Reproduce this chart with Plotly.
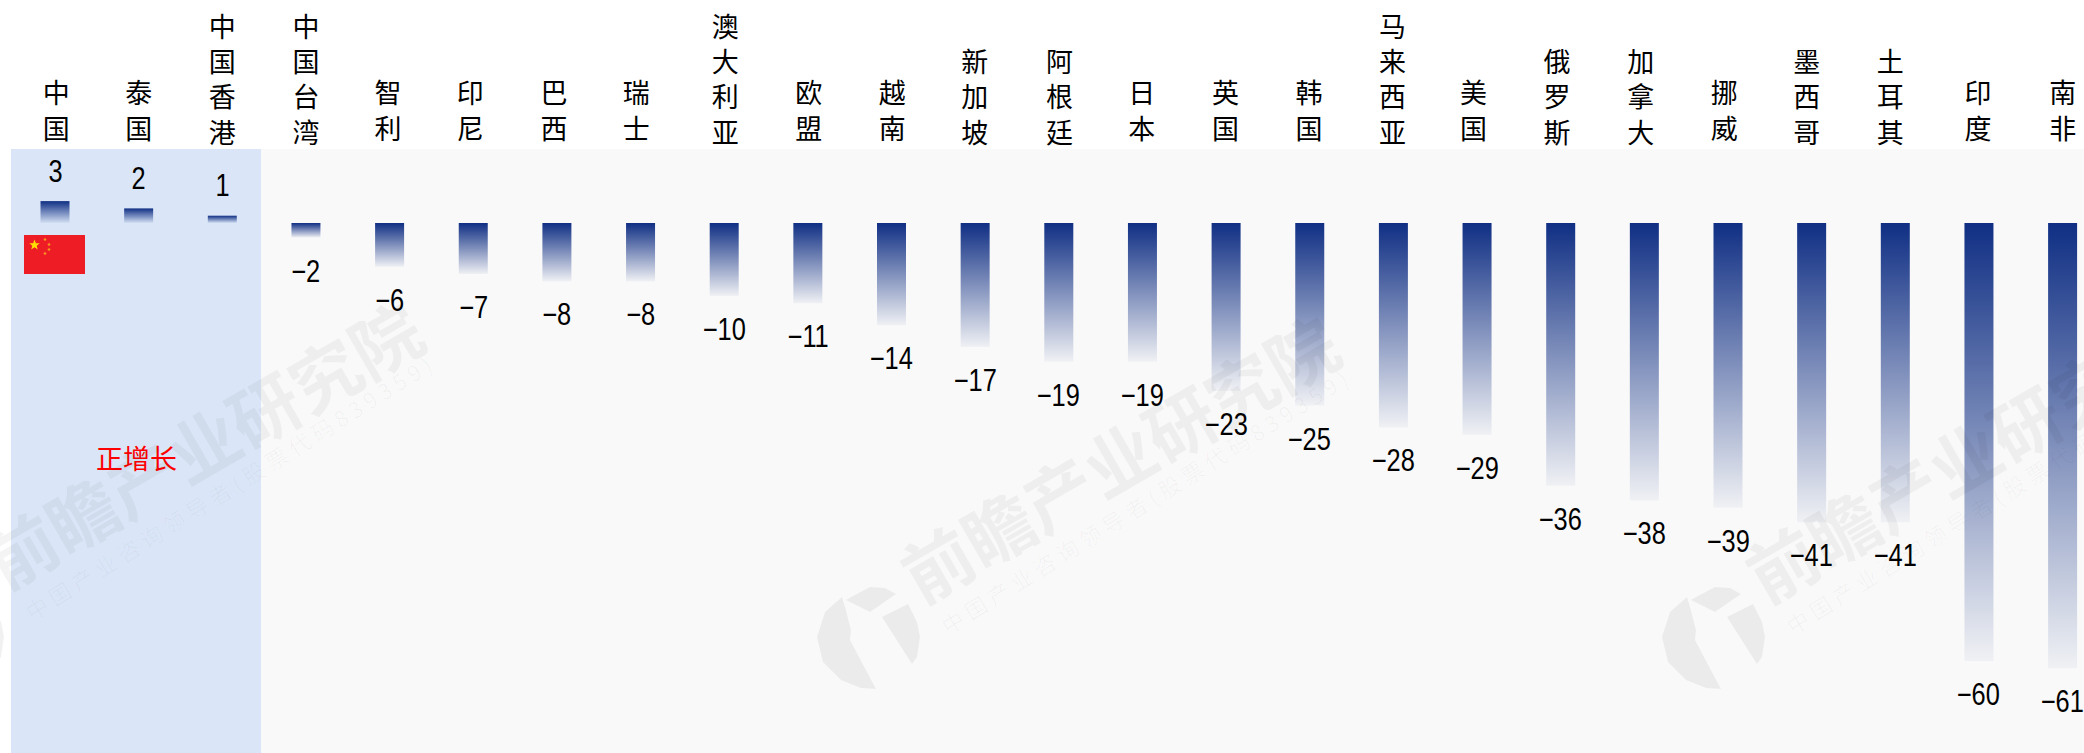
import base64
import json
import math
import plotly.graph_objects as go

categories = ["中国", "泰国", "中国香港", "中国台湾", "智利", "印尼", "巴西", "瑞士", "澳大利亚", "欧盟",
              "越南", "新加坡", "阿根廷", "日本", "英国", "韩国", "马来西亚", "美国", "俄罗斯", "加拿大",
              "挪威", "墨西哥", "土耳其", "印度", "南非"]
values = [3, 2, 1, -2, -6, -7, -8, -8, -10, -11, -14, -17, -19, -19, -23, -25, -28, -29, -36, -38, -39,
          -41, -41, -60, -61]
positive_note = "正增长"
watermark_main = "前瞻产业研究院"
watermark_sub = "中国产业咨询领导者(股票代码839359)"

W, H = 2084, 753
L, T = 11, 149
STEP = 83.65
UNIT = 7.3
CJK = "Noto Sans CJK SC"
NUM = "Liberation Sans"
BG = "#F9F9F9"
label_nudge = [1.3, 0, 0, 0, -1.5, -3, -3, -4.3, 1, 1, 0.8, -0.5, 0.7, -0.7, -0.7, -0.8, -0.8, -3.5, -3.6,
               -3.6, -3.7, -5, -5, -1, 0.1]
watermark_offsets = [(-916, -14), (0, 0), (845, 0)]


def px(x):
    return (x - L) / (W - L)


def py(y):
    return 1 - (y - T) / (H - T)


xmin = (L - 55) / STEP
xmax = xmin + (W - L) / STEP
ymax = (223 - T) / UNIT
ymin = (223 - H) / UNIT

fig = go.Figure(go.Bar(
    x=list(range(len(values))), y=values, width=29 / STEP,
    marker=dict(color="#102F84", line=dict(width=0)),
    hoverinfo="skip",
))

annotations = []
for i, v in enumerate(values):
    annotations.append(dict(
        x=i, y=v, xref="x", yref="y", showarrow=False, xanchor="center", yanchor="middle",
        yshift=30 if v > 0 else -33.5,
        text=str(v).replace("-", "−"), font=dict(family=NUM, size=31, color="#000000"),
    ))
annotations.append(dict(x=px(136), y=py(457), xref="paper", yref="paper", showarrow=False,
                        xanchor="center", yanchor="middle",
                        text=positive_note, font=dict(family=CJK, size=27, color="#FF0000")))

shapes = [dict(type="rect", xref="paper", yref="paper", x0=0, x1=px(261), y0=0, y1=1,
               fillcolor="#DAE6F7", line_width=0, layer="below")]

LOGO_LEFT = [(-27, -40), (-44, -25), (-52, 0), (-46, 25), (-28, 43), (-8, 51), (7, 52), (-19, 3), (-18, -7), (-24, -30)]
LOGO_TOP = [(-16, -41), (1, -50), (16, -49), (27, -43), (1, -25), (-23, -37)]
LOGO_RIGHT = [(13, -20), (39, -33), (48, -15), (51, 0), (48, 20), (43, 27)]

for dx, dy in watermark_offsets:
    annotations.append(dict(x=px(1118 + dx), y=py(456 + dy), xref="paper", yref="paper", showarrow=False,
                            xanchor="center", yanchor="middle",
                            text="<b>" + watermark_main + "</b>", textangle=-30,
                            font=dict(family=CJK, size=70, color="rgba(0,0,0,0.042)")))
    annotations.append(dict(x=px(1146 + dx), y=py(500 + dy), xref="paper", yref="paper", showarrow=False,
                            xanchor="center", yanchor="middle",
                            text=watermark_sub, textangle=-32,
                            font=dict(family=CJK, size=22, color="rgba(0,0,0,0.03)")))
    for piece in (LOGO_LEFT, LOGO_TOP, LOGO_RIGHT):
        d = "M" + " L".join(f"{px(869 + dx + a):.5f},{py(637 + b):.5f}" for a, b in piece) + " Z"
        shapes.append(dict(type="path", path=d, xref="paper", yref="paper",
                           fillcolor="rgba(0,0,0,0.055)", line_width=0, layer="above"))


def star(cx, cy, r, fill):
    pts = []
    for j in range(10):
        a = -math.pi / 2 + j * math.pi / 5
        rr = r if j % 2 == 0 else r * 0.42
        pts.append(f"{cx + rr * math.cos(a):.2f},{cy + rr * math.sin(a):.2f}")
    return f'<polygon points="{" ".join(pts)}" fill="{fill}"/>'


flag_svg = ('<svg xmlns="http://www.w3.org/2000/svg" width="61" height="39" viewBox="0 0 61 39">'
            '<rect width="61" height="39" fill="#EE1C25"/>'
            + star(10.5, 10, 5.5, "#FFDE00") + star(21, 4.5, 2, "#F7A020") + star(25, 9.5, 2, "#F7A020")
            + star(25, 14.5, 2, "#F7A020") + star(21, 18.5, 2, "#F7A020") + '</svg>')
flag_uri = "data:image/svg+xml;base64," + base64.b64encode(flag_svg.encode()).decode()

fig.update_layout(
    width=W, height=H, margin=dict(l=L, r=0, t=T, b=0, pad=0),
    paper_bgcolor="#FFFFFF", plot_bgcolor=BG, showlegend=False,
    xaxis=dict(range=[xmin, xmax], side="top", tickmode="array", tickvals=list(range(len(categories))),
               ticktext=["<br>".join(c) for c in categories], ticks="", ticklen=0, showgrid=False,
               zeroline=False, showline=False, automargin=False, tickangle=0,
               tickfont=dict(family=CJK, size=27, color="#000000")),
    yaxis=dict(range=[ymin, ymax], visible=False, showgrid=False, zeroline=False),
    annotations=annotations, shapes=shapes,
    images=[dict(source=flag_uri, xref="paper", yref="paper", x=px(24), y=py(235), sizex=61 / (W - L),
                 sizey=39 / (H - T), xanchor="left", yanchor="top", sizing="stretch", layer="above")],
)

post = """
document.documentElement.style.overflow='hidden';
document.body.style.margin='0';
var gd=document.getElementById('{plot_id}');
var svg=gd.querySelector('svg.main-svg');
var ns='http://www.w3.org/2000/svg';
var defs=svg.querySelector('defs');
var g=document.createElementNS(ns,'linearGradient');
g.setAttribute('id','barFade');g.setAttribute('x1','0');g.setAttribute('y1','0');g.setAttribute('x2','0');g.setAttribute('y2','1');
[[0,1],[1,0.04]].forEach(function(s){var st=document.createElementNS(ns,'stop');
st.setAttribute('offset',s[0]);st.setAttribute('stop-color','#102F84');st.setAttribute('stop-opacity',s[1]);g.appendChild(st);});
defs.appendChild(g);
gd.querySelectorAll('.barlayer .point path').forEach(function(p){p.style.setProperty('fill','url(#barFade)');p.style.setProperty('fill-opacity','1');});
gd.querySelectorAll('.annotation-text').forEach(function(t){
  if(/^[−0-9]+$/.test(t.textContent)){
    t.setAttribute('textLength',(t.getComputedTextLength()*0.82).toFixed(1));
    t.setAttribute('lengthAdjust','spacingAndGlyphs');
  } else if(t.textContent.indexOf('股票')>=0){
    t.style.letterSpacing='5px';
  }
});
var nudge=NUDGE;
gd.querySelectorAll('.xtick text').forEach(function(t,i){
  var lines=t.querySelectorAll('tspan.line').length;
  var dy=(lines==2)?-4:0;
  var old=t.getAttribute('transform')||'';
  t.setAttribute('transform','translate('+(nudge[i]||0)+','+dy+') '+old);
});
""".replace("NUDGE", json.dumps(label_nudge))

fig.write_html("out.html", config=dict(displayModeBar=False), post_script=post)
